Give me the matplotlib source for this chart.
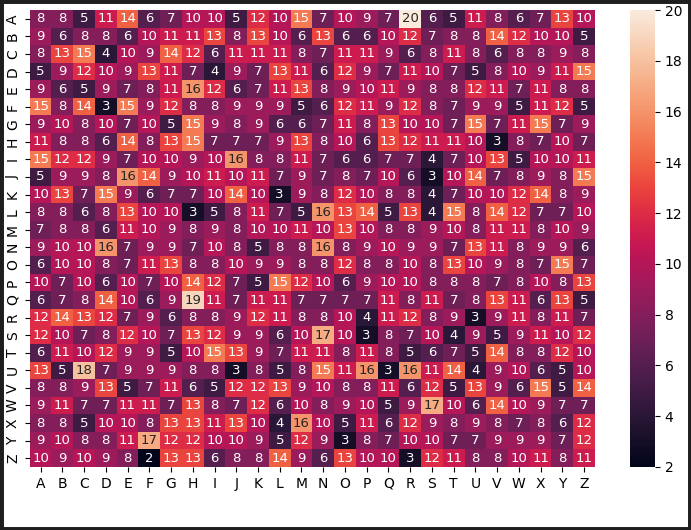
import numpy as np
import matplotlib
matplotlib.use("Agg")
import matplotlib.pyplot as plt
import seaborn as sns

letters = list("ABCDEFGHIJKLMNOPQRSTUVWXYZ")

row_A = [8, 8, 5, 11, 14, 6, 7, 10, 10, 5, 12, 10, 15, 7, 10, 9, 7, 20, 6, 5, 11, 8, 6, 7, 13, 10]
row_B = [9, 6, 8, 8, 6, 10, 11, 11, 13, 8, 13, 10, 6, 13, 6, 6, 10, 12, 7, 8, 8, 14, 12, 10, 10, 5]
row_C = [8, 13, 15, 4, 10, 9, 14, 12, 6, 11, 11, 11, 8, 7, 11, 11, 9, 6, 8, 11, 8, 6, 8, 8, 9, 8]
row_D = [5, 9, 12, 10, 9, 13, 11, 7, 4, 9, 7, 13, 11, 6, 12, 9, 7, 11, 10, 7, 5, 8, 10, 9, 11, 15]
row_E = [9, 6, 5, 9, 7, 8, 11, 16, 12, 6, 7, 11, 13, 8, 9, 10, 11, 9, 8, 8, 12, 11, 7, 11, 8, 8]
row_F = [15, 8, 14, 3, 15, 9, 12, 8, 8, 9, 9, 9, 5, 6, 12, 11, 9, 12, 8, 7, 9, 9, 5, 11, 12, 5]
row_G = [9, 10, 8, 10, 7, 10, 5, 15, 9, 8, 9, 6, 6, 7, 11, 8, 13, 10, 10, 7, 15, 7, 11, 15, 7, 9]
row_H = [11, 8, 8, 6, 14, 8, 13, 15, 7, 7, 7, 9, 13, 8, 10, 6, 13, 12, 11, 11, 10, 3, 8, 7, 10, 7]
row_I = [15, 12, 12, 9, 7, 10, 10, 9, 10, 16, 8, 8, 11, 7, 6, 6, 7, 7, 4, 7, 10, 13, 5, 10, 10, 11]
row_J = [5, 9, 9, 8, 16, 14, 9, 10, 11, 10, 11, 7, 9, 7, 8, 7, 10, 6, 3, 10, 14, 7, 8, 9, 8, 15]
row_K = [10, 13, 7, 15, 9, 6, 7, 7, 10, 14, 10, 3, 9, 8, 12, 10, 8, 8, 4, 7, 10, 10, 12, 14, 8, 9]
row_L = [8, 8, 6, 8, 13, 10, 10, 3, 5, 8, 11, 7, 5, 16, 13, 14, 5, 13, 4, 15, 8, 14, 12, 7, 7, 10]
row_M = [7, 8, 8, 6, 11, 10, 9, 8, 9, 8, 10, 10, 11, 10, 13, 10, 8, 8, 9, 10, 8, 11, 11, 8, 10, 9]
row_N = [9, 10, 10, 16, 7, 9, 9, 7, 10, 8, 5, 8, 8, 16, 8, 9, 10, 9, 9, 7, 13, 11, 8, 9, 9, 6]
row_O = [6, 10, 10, 8, 7, 11, 13, 8, 8, 10, 9, 9, 8, 8, 12, 8, 8, 10, 8, 13, 10, 9, 8, 7, 15, 7]
row_P = [10, 7, 10, 6, 10, 7, 10, 14, 12, 7, 5, 15, 12, 10, 6, 9, 10, 10, 8, 8, 8, 7, 8, 10, 8, 13]
row_Q = [6, 7, 8, 14, 10, 6, 9, 19, 11, 7, 11, 11, 7, 7, 7, 7, 11, 8, 11, 7, 8, 13, 11, 6, 13, 5]
row_R = [12, 14, 13, 12, 7, 9, 6, 8, 8, 9, 12, 11, 8, 8, 10, 4, 11, 12, 8, 9, 3, 9, 11, 8, 11, 7]
row_S = [12, 10, 7, 8, 12, 10, 7, 13, 12, 9, 9, 6, 10, 17, 10, 3, 8, 7, 10, 4, 9, 5, 9, 11, 10, 12]
row_T = [6, 11, 10, 12, 9, 9, 5, 10, 15, 13, 9, 7, 11, 11, 8, 11, 8, 5, 6, 7, 5, 14, 8, 8, 12, 10]
row_U = [13, 5, 18, 7, 9, 9, 9, 8, 8, 3, 8, 5, 8, 15, 11, 16, 3, 16, 11, 14, 4, 9, 10, 6, 5, 10]
row_V = [8, 8, 9, 13, 5, 7, 11, 6, 5, 12, 12, 13, 9, 10, 8, 8, 11, 6, 12, 5, 13, 9, 6, 15, 5, 14]
row_W = [9, 11, 7, 7, 11, 11, 7, 13, 8, 7, 12, 6, 10, 8, 9, 10, 5, 9, 17, 10, 6, 14, 10, 9, 7, 7]
row_X = [8, 8, 5, 10, 10, 8, 13, 13, 11, 13, 10, 4, 16, 10, 5, 11, 6, 12, 9, 8, 9, 8, 7, 8, 6, 12]
row_Y = [9, 10, 8, 8, 11, 17, 12, 12, 10, 10, 9, 5, 12, 9, 3, 8, 7, 10, 10, 7, 7, 9, 9, 9, 7, 12]
row_Z = [10, 9, 10, 9, 8, 2, 13, 13, 6, 8, 8, 14, 9, 6, 13, 10, 10, 3, 12, 11, 8, 8, 10, 11, 8, 11]

counts = np.array([row_A, row_B, row_C, row_D, row_E, row_F, row_G, row_H, row_I,
                   row_J, row_K, row_L, row_M, row_N, row_O, row_P, row_Q, row_R,
                   row_S, row_T, row_U, row_V, row_W, row_X, row_Y, row_Z])

fig = plt.figure(figsize=(6.91, 5.30), dpi=100)
ax = fig.add_axes([0.043, 0.119, 0.818, 0.862])
cax = fig.add_axes([0.912, 0.119, 0.036, 0.862])

sns.heatmap(counts, annot=True, fmt="d", ax=ax, cbar_ax=cax,
            xticklabels=letters, yticklabels=letters,
            annot_kws={"size": 9.5})
ax.tick_params(axis="y", rotation=90)
ax.tick_params(axis="x", rotation=0)

# dark frame of the original screenshot
frame = plt.Rectangle((0, 0), 1, 1, transform=fig.transFigure, fill=False,
                      edgecolor="#1e1e1e", linewidth=5, zorder=10)
fig.patches.append(frame)

fig.savefig("out.png", dpi=100)
